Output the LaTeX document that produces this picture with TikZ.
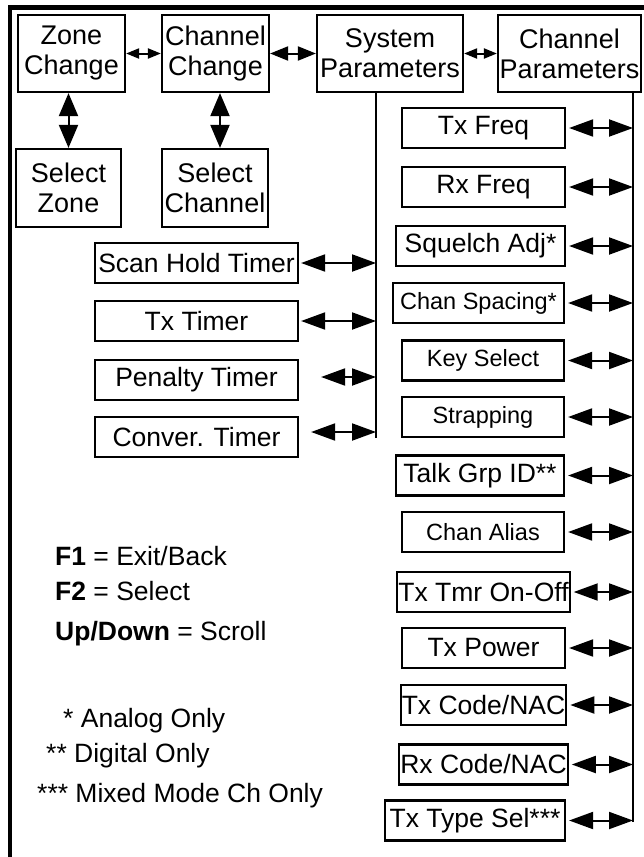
\documentclass[tikz,border=0pt]{standalone}
\usepackage{fontspec}
\setmainfont{Liberation Sans}
\usetikzlibrary{arrows.meta}
\begin{document}
\begin{tikzpicture}[x=1pt,y=-1pt,
  box/.style={draw, line width=2.2pt, inner sep=1pt, align=center,
    font=\fontsize{26.5}{30}\selectfont, minimum height=40pt},
  smallbox/.style={box, font=\fontsize{23.5}{28}\selectfont},
  topbox/.style={box, font=\fontsize{27}{30}\selectfont, minimum height=77pt},
  dbl/.style={line width=2pt, {Triangle[length=24pt,width=17pt]}-{Triangle[length=24pt,width=17pt]}},
  vdbl/.style={line width=2pt, {Triangle[length=23pt,width=19pt]}-{Triangle[length=23pt,width=19pt]}},
  sdbl/.style={line width=2pt, {Triangle[length=13pt,width=10pt]}-{Triangle[length=13pt,width=10pt]}},
  mdbl/.style={line width=2pt, {Triangle[length=18pt,width=14pt]}-{Triangle[length=18pt,width=14pt]}},
  bus/.style={line width=2pt},
  legend/.style={anchor=base west, inner sep=0pt, font=\fontsize{26.5}{30}\selectfont},
  frame/.style={line width=4.8pt, line join=miter}
]
\useasboundingbox (0,0) rectangle (644,857);
% frame
\draw[frame] (644,7.5) -- (10,7.5) -- (10,857);

% top row
\node[topbox, minimum width=107pt] (zone) at (71.5,53.5) {Zone\\Change};
\node[topbox, minimum width=107pt] (chch) at (215.5,53.5) {Channel\\Change};
\node[topbox, minimum width=146pt] (sysp) at (390,53.5) {System\\Parameters};
\node[topbox, minimum width=143pt] (chp) at (569.5,53.5) {Channel\\Parameters};
% second row
\node[topbox, minimum width=105pt, minimum height=78pt] (selz) at (68.5,188) {Select\\Zone};
\node[topbox, minimum width=106pt, minimum height=78pt] (selc) at (215,188) {Select\\Channel};

\draw[sdbl] (zone.east) -- (chch.west);
\draw[mdbl] (chch.east) -- (sysp.west);
\draw[sdbl] (sysp.east) -- (chp.west);
\draw[vdbl] (selz.north |- zone.south) -- (selz.north);
\draw[vdbl] ([xshift=4.5pt]chch.south) -- ([xshift=4.5pt]chch.south |- selc.north);

% system parameter list
\node[box, minimum width=203pt] (scan) at (196.5,263) {Scan Hold Timer};
\node[box, minimum width=203pt] (txt) at (196.5,321) {Tx Timer};
\node[box, minimum width=203pt] (pen) at (196.5,380) {Penalty Timer};
\node[box, minimum width=203pt] (conv) at (196.5,437) {Conver. Timer};
\coordinate (sysbus) at (376,438);
\draw[bus] (sysp.south -| sysbus) -- (sysbus);
\draw[dbl] ([xshift=2pt]scan.east) -- (scan.east -| sysbus);
\draw[dbl] ([xshift=2pt]txt.east) -- (txt.east -| sysbus);
\draw[dbl] ([xshift=22pt,yshift=3pt]pen.east) -- ([yshift=3pt]pen.east -| sysbus);
\draw[dbl] ([xshift=12pt,yshift=5pt]conv.east) -- ([yshift=5pt]conv.east -| sysbus);

% channel parameter list
\node[box, minimum width=163pt] (txf) at (483.5,128) {Tx Freq};
\node[box, minimum width=163pt] (rxf) at (483.5,187) {Rx Freq};
\node[box, minimum width=169pt] (sq) at (480.5,246) {Squelch Adj*};
\node[smallbox, minimum width=171pt] (cs) at (478.5,303) {Chan Spacing*};
\node[smallbox, minimum width=162pt] (ks) at (483,360.5) {Key Select};
\node[smallbox, minimum width=162pt] (st) at (483,417) {Strapping};
\node[box, minimum width=168pt] (tg) at (480,475.5) {Talk Grp ID**};
\node[smallbox, minimum width=162pt] (ca) at (483,532) {Chan Alias};
\node[box, minimum width=163pt] (tt) at (483.5,592) {Tx Tmr On-Off};
\node[box, minimum width=163pt] (tp) at (483.5,648) {Tx Power};
\node[box, minimum width=163pt] (tc) at (483.5,705) {Tx Code/NAC};
\node[box, minimum width=163pt] (rc) at (483.5,764.5) {Rx Code/NAC};
\node[box, minimum width=180pt] (ty) at (475,820.5) {Tx Type Sel***};
\coordinate (chbus) at (633,822);
\draw[bus] (chp.south -| chbus) -- (chbus);
\foreach \n in {txf,rxf,sq,cs,ks,st,tg,ca,tt,tp,tc,rc,ty}{
  \draw[dbl] ([xshift=3pt]\n.east) -- (\n.east -| chbus);
}

% legend
\node[legend] (l1) at (55,565) {\textbf{F1} = Exit/Back};
\node[legend] (l2) at (55,600) {\textbf{F2} = Select};
\node[legend] (l3) at (55,640) {\textbf{Up/Down} = Scroll};
\node[legend] (n1) at (63,727) {* Analog Only};
\node[legend] (n2) at (46,762) {** Digital Only};
\node[legend] (n3) at (37,802) {*** Mixed Mode Ch Only};
\end{tikzpicture}
\end{document}
